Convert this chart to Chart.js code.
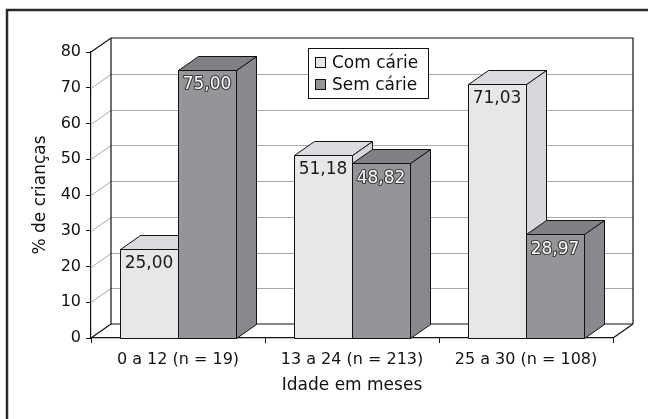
<!DOCTYPE html>
<html>
<head>
<meta charset="utf-8">
<script src="https://cdn.jsdelivr.net/npm/chart.js@4.4.1/dist/chart.umd.min.js"></script>
<style>
  html, body { margin: 0; padding: 0; background: #fff; }
  #wrap { width: 648px; height: 419px; position: relative; }
</style>
</head>
<body>
<div id="wrap"><canvas id="chart"></canvas></div>
<script>
// Faixas etárias (categorias) e percentuais
const categories = ['0 a 12 (n = 19)', '13 a 24 (n = 213)', '25 a 30 (n = 108)'];
const comCarie = [25.00, 51.18, 71.03];
const semCarie = [75.00, 48.82, 28.97];
const yTicks = [0, 10, 20, 30, 40, 50, 60, 70, 80];

const FONT = '"DejaVu Sans", Verdana, sans-serif';
const DX = 20, DY = -14;   // profundidade 3D

// cores: frente, topo, lado
const SHADES = [
  { front: '#e6e7e9', top: '#dadbde', side: '#d6d7da', text: '#1a1a1a', halo: null },
  { front: '#939598', top: '#7f8184', side: '#87898c', text: '#ffffff', halo: '#3a3a3a' },
];

function fmt(v) { return v.toFixed(2).replace('.', ','); }

function line(ctx, pts, color, w) {
  ctx.beginPath();
  ctx.moveTo(pts[0][0], pts[0][1]);
  for (let i = 1; i < pts.length; i++) ctx.lineTo(pts[i][0], pts[i][1]);
  ctx.strokeStyle = color;
  ctx.lineWidth = w || 1;
  ctx.stroke();
}

function poly(ctx, pts, fill) {
  ctx.beginPath();
  ctx.moveTo(pts[0][0], pts[0][1]);
  for (let i = 1; i < pts.length; i++) ctx.lineTo(pts[i][0], pts[i][1]);
  ctx.closePath();
  ctx.fillStyle = fill;
  ctx.fill();
  ctx.strokeStyle = '#111';
  ctx.lineWidth = 1;
  ctx.stroke();
}

const box3d = {
  id: 'box3d',
  beforeDraw(chart) {
    const ctx = chart.ctx;
    ctx.save();
    ctx.fillStyle = '#fff';
    ctx.fillRect(0, 0, chart.width, chart.height);
    // moldura externa
    line(ctx, [[7, chart.height + 2], [7, 10], [chart.width + 2, 10]], '#2a2a2a', 2.5);
    ctx.restore();
  },
  beforeDatasetsDraw(chart) {
    const ctx = chart.ctx;
    const a = chart.chartArea;
    const y = chart.scales.y;
    const L = a.left, R = a.right, B = a.bottom, T = a.top;
    ctx.save();
    // linhas de grade na parede do fundo e na lateral
    yTicks.forEach((v) => {
      if (v === 0 || v === 80) return;
      const py = Math.round(y.getPixelForValue(v)) + 0.5;
      line(ctx, [[L, py], [L + DX, py + DY], [R + DX, py + DY]], '#a8a8a8', 1);
    });
    // arestas das paredes e do piso
    line(ctx, [[L, T], [L + DX, T + DY], [R + DX, T + DY], [R + DX, B + DY]], '#111', 1.2);
    line(ctx, [[L + DX, T + DY], [L + DX, B + DY], [R + DX, B + DY]], '#111', 1.2);
    line(ctx, [[L, B], [L + DX, B + DY]], '#111', 1.2);
    line(ctx, [[R, B], [R + DX, B + DY]], '#111', 1.2);
    ctx.restore();
  },
  beforeDatasetDraw() { return false; },
  afterDatasetsDraw(chart) {
    const ctx = chart.ctx;
    const metas = chart.data.datasets.map((d, i) => chart.getDatasetMeta(i));
    ctx.save();
    categories.forEach((c, i) => {
      metas.forEach((m, d) => {
        const el = m.data[i];
        const s = SHADES[d];
        const x0 = Math.round(el.x - el.width / 2) + 0.5;
        const x1 = Math.round(el.x + el.width / 2) + 0.5;
        const yt = Math.round(el.y) + 0.5;
        const yb = Math.round(el.base) + 0.5;
        poly(ctx, [[x1, yt], [x1 + DX, yt + DY], [x1 + DX, yb + DY], [x1, yb]], s.side);
        poly(ctx, [[x0, yt], [x0 + DX, yt + DY], [x1 + DX, yt + DY], [x1, yt]], s.top);
        poly(ctx, [[x0, yt], [x1, yt], [x1, yb], [x0, yb]], s.front);
      });
    });
    // rótulos de valor
    ctx.font = '17px ' + FONT;
    ctx.textAlign = 'center';
    ctx.textBaseline = 'middle';
    metas.forEach((m, d) => {
      const s = SHADES[d];
      m.data.forEach((el, i) => {
        const txt = fmt(chart.data.datasets[d].data[i]);
        const tx = el.x, ty = el.y + 15;
        if (s.halo) {
          ctx.lineWidth = 2.2;
          ctx.strokeStyle = s.halo;
          ctx.lineJoin = 'round';
          ctx.strokeText(txt, tx, ty);
        }
        ctx.fillStyle = s.text;
        ctx.fillText(txt, tx, ty);
      });
    });
    ctx.restore();
  },
  afterDraw(chart) {
    // legenda
    const ctx = chart.ctx;
    const lx = 308.5, ly = 48.5, lw = 120, lh = 50;
    ctx.save();
    ctx.fillStyle = '#fff';
    ctx.fillRect(lx, ly, lw, lh);
    ctx.strokeStyle = '#111';
    ctx.lineWidth = 1;
    ctx.strokeRect(lx, ly, lw, lh);
    ctx.font = '17px ' + FONT;
    ctx.textAlign = 'left';
    ctx.textBaseline = 'middle';
    chart.data.datasets.forEach((ds, d) => {
      const cy = ly + 14 + d * 22;
      ctx.fillStyle = SHADES[d].front;
      ctx.fillRect(315.5, cy - 5, 10, 10);
      ctx.strokeRect(315.5, cy - 5, 10, 10);
      ctx.fillStyle = '#111';
      ctx.fillText(ds.label, 332, cy + 1);
    });
    ctx.restore();
  },
};

new Chart(document.getElementById('chart'), {
  type: 'bar',
  data: {
    labels: categories,
    datasets: [
      { label: 'Com cárie', data: comCarie, backgroundColor: SHADES[0].front },
      { label: 'Sem cárie', data: semCarie, backgroundColor: SHADES[1].front },
    ],
  },
  options: {
    responsive: true,
    maintainAspectRatio: false,
    animation: false,
    devicePixelRatio: 1,
    categoryPercentage: 0.667,
    barPercentage: 1.0,
    layout: { padding: { left: 28, top: 52, right: 35, bottom: 19 } },
    plugins: { legend: { display: false }, tooltip: { enabled: false } },
    scales: {
      x: {
        afterFit: (s) => { s.height = 62; },
        grid: { display: true, drawOnChartArea: false, offset: true, tickLength: 5, color: '#111' },
        border: { display: true, color: '#111', width: 1.2 },
        ticks: { color: '#111', font: { family: FONT, size: 16 }, padding: 7, maxRotation: 0 },
        title: { display: true, text: 'Idade em meses', color: '#111', font: { family: FONT, size: 17 }, padding: { top: 4, bottom: 4 } },
      },
      y: {
        min: 0,
        max: 80,
        afterFit: (s) => { s.width = 63; },
        afterBuildTicks: (s) => { s.ticks = yTicks.map((v) => ({ value: v })); },
        grid: { display: true, drawOnChartArea: false, tickLength: 5, color: '#111' },
        border: { display: true, color: '#111', width: 1.2 },
        ticks: { color: '#111', font: { family: FONT, size: 16 }, padding: 5 },
        title: { display: true, text: '% de crianças', color: '#111', font: { family: FONT, size: 17 }, padding: { top: 2, bottom: 2 } },
      },
    },
  },
  plugins: [box3d],
});
</script>
</body>
</html>
